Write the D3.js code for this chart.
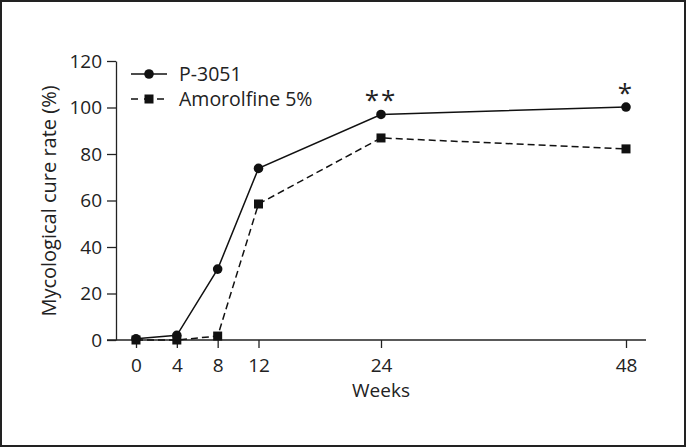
<!DOCTYPE html>
<html>
<head>
<meta charset="utf-8">
<script src="https://cdn.jsdelivr.net/npm/d3@7"></script>
<style>
  body { margin: 0; background: #fff; }
  text { font-family: "Open Sans", "Noto Sans", sans-serif; fill: #222; }
</style>
</head>
<body>
<div id="chart"></div>
<script>
// datos
var weeks = [0, 4, 8, 12, 24, 48];
var p3051 = [0.5, 2, 30.5, 73.8, 97, 100.2];
var amorolfine = [0, 0, 1.7, 58.5, 86.9, 82.2];
var yTicks = [0, 20, 40, 60, 80, 100, 120];
var seriesNames = ["P-3051", "Amorolfine 5%"];
var stars = [{week: 24, label: "**", value: 97}, {week: 48, label: "*", value: 100.2}];

var width = 686, height = 447;

var svg = d3.select("#chart").append("svg")
    .attr("width", width)
    .attr("height", height);

// marco
svg.append("rect")
    .attr("x", 1).attr("y", 1)
    .attr("width", width - 2).attr("height", height - 2)
    .attr("fill", "none")
    .attr("stroke", "#222")
    .attr("stroke-width", 2);

// escalas
var x = d3.scaleLinear().domain([0, 48]).range([136, 626]);
var y = d3.scaleLinear().domain([0, 120]).range([340, 61]);

// eje y
var yAxis = svg.append("g")
    .attr("transform", "translate(116,0)")
    .call(d3.axisLeft(y).tickValues(yTicks).tickSize(9).tickSizeOuter(0).tickPadding(5))
    .attr("font-size", 19)
    .attr("font-family", null);
yAxis.select(".domain").attr("stroke", "#222").attr("stroke-width", 1.3);
yAxis.selectAll(".tick line").attr("stroke", "#222").attr("stroke-width", 1.3);
yAxis.selectAll("text").attr("fill", "#222");

// eje x
var xAxis = svg.append("g")
    .attr("transform", "translate(0,340)")
    .call(d3.axisBottom(x).tickValues(weeks).tickSize(8).tickSizeOuter(0).tickPadding(11))
    .attr("font-size", 19)
    .attr("font-family", null);
xAxis.select(".domain").attr("d", "M107,0H646").attr("stroke", "#222").attr("stroke-width", 1.3);
xAxis.selectAll(".tick line").attr("stroke", "#222").attr("stroke-width", 1.3);
xAxis.selectAll("text").attr("fill", "#222");

// titulos de ejes
svg.append("text")
    .attr("x", 381).attr("y", 397)
    .attr("text-anchor", "middle")
    .style("font-size", "19px")
    .text("Weeks");

svg.append("text")
    .attr("transform", "translate(56,201) rotate(-90)")
    .attr("text-anchor", "middle")
    .style("font-size", "20px")
    .text("Mycological cure rate (%)");

// lineas
var line = d3.line()
    .x((d, i) => x(weeks[i]))
    .y(d => y(d));

svg.append("path")
    .datum(p3051)
    .attr("d", line)
    .attr("fill", "none")
    .attr("stroke", "#111")
    .attr("stroke-width", 1.5);

svg.append("path")
    .datum(amorolfine)
    .attr("d", line)
    .attr("fill", "none")
    .attr("stroke", "#111")
    .attr("stroke-width", 1.5)
    .attr("stroke-dasharray", "7,4");

// marcadores
svg.append("g").selectAll("rect")
    .data(amorolfine)
    .enter().append("rect")
    .attr("x", (d, i) => x(weeks[i]) - 4.5)
    .attr("y", d => y(d) - 4.5)
    .attr("width", 9).attr("height", 9)
    .attr("fill", "#111");

svg.append("g").selectAll("circle")
    .data(p3051)
    .enter().append("circle")
    .attr("cx", (d, i) => x(weeks[i]))
    .attr("cy", d => y(d))
    .attr("r", 4.8)
    .attr("fill", "#111");

// asteriscos
svg.append("g").selectAll("text")
    .data(stars)
    .enter().append("text")
    .attr("x", d => x(d.week))
    .attr("y", d => y(d.value) - 5)
    .attr("text-anchor", "middle")
    .style("font-size", "26px")
    .style("letter-spacing", "2px")
    .text(d => d.label);

// leyenda
var legend = svg.append("g");
seriesNames.forEach(function(name, i) {
    var ly = 74 + i * 25;
    legend.append("line")
        .attr("x1", 131).attr("x2", 167)
        .attr("y1", ly).attr("y2", ly)
        .attr("stroke", "#111")
        .attr("stroke-width", 1.5)
        .attr("stroke-dasharray", i == 1 ? "7,6" : null);
    if (i == 0) {
        legend.append("circle").attr("cx", 149).attr("cy", ly).attr("r", 4.8).attr("fill", "#111");
    } else {
        legend.append("rect").attr("x", 144.5).attr("y", ly - 4.5).attr("width", 9).attr("height", 9).attr("fill", "#111");
    }
    legend.append("text")
        .attr("x", 179).attr("y", ly + 6.5)
        .style("font-size", "19.5px")
        .text(name);
});
</script>
</body>
</html>
